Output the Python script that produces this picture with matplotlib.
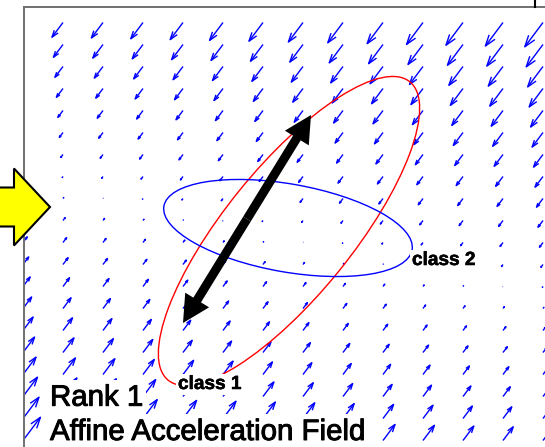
import matplotlib.pyplot as plt
import numpy as np
from matplotlib import patheffects
from matplotlib.collections import LineCollection
from matplotlib.lines import Line2D
from matplotlib.patches import Ellipse, FancyArrow

plt.rcParams['font.family'] = ['Liberation Sans', 'DejaVu Sans']

# sample points of the field (canvas units, y grows downward)
grid_x = np.arange(23, 560, 40)
grid_y = np.arange(22.5, 450, 22)

# rank 1 affine field: a(p) = d * (g . (p - p0))
field_dir = np.array([-0.6, 0.8])
field_grad = np.array([0.025, -0.111])
field_origin = np.array([63.0, 188.0])

# class ellipses: centre, full width, full height, angle (deg)
class1_ellipse = ((289, 231), 384, 128, -51)
class2_ellipse = ((288, 228), 252, 88, 10)

# principal axis of the acceleration (double arrow)
axis_start = np.array([183.0, 323.0])
axis_end = np.array([311.0, 115.0])

fig = plt.figure(figsize=(5.45, 4.47), dpi=100)
ax = fig.add_axes([24 / 545, 0, 521 / 545, 440 / 447])
ax.set_xlim(24, 545)
ax.set_ylim(447, 7)
ax.set_xticks([])
ax.set_yticks([])
for side in ['right', 'bottom']:
    ax.spines[side].set_visible(False)
for side in ['left', 'top']:
    ax.spines[side].set_color('#707070')
    ax.spines[side].set_linewidth(1.4)

# matlab style quiver (open arrow heads, tail on the grid point)
X, Y = np.meshgrid(grid_x, grid_y)
s = field_grad[0] * (X - field_origin[0]) + field_grad[1] * (Y - field_origin[1])
U = field_dir[0] * s
V = field_dir[1] * s
alpha, beta = 0.38, 0.33
segs = []
for x, y, u, v in zip(X.ravel(), Y.ravel(), U.ravel(), V.ravel()):
    tx, ty = x + u, y + v
    segs.append([(x, y), (tx, ty)])
    segs.append([(tx - alpha * (u + beta * v), ty - alpha * (v - beta * u)),
                 (tx, ty),
                 (tx - alpha * (u - beta * v), ty - alpha * (v + beta * u))])
ax.add_collection(LineCollection(segs, colors='blue', linewidths=1.0, zorder=1))

for (c, w, h, ang), col in [(class1_ellipse, 'red'), (class2_ellipse, 'blue')]:
    ax.add_patch(Ellipse(c, w, h, angle=ang, fill=False, ec=col, lw=1.0, zorder=2))

# double headed arrow drawn as two halves from the middle
mid = (axis_start + axis_end) / 2
for tip in [axis_start, axis_end]:
    d = tip - mid
    ax.add_patch(FancyArrow(mid[0], mid[1], d[0], d[1], width=9, head_width=28,
                            head_length=27, length_includes_head=True,
                            fc='black', ec='black', lw=0, zorder=3))

# yellow pointer on the left edge
ax.add_patch(FancyArrow(-30, 207, 80, 0, width=39, head_width=77, head_length=36,
                        length_includes_head=True, fc='#ffff00', ec='black',
                        lw=1.5, clip_on=False, zorder=4))

box = dict(boxstyle='square,pad=0.12', fc='white', ec='none')
heavy = [patheffects.withStroke(linewidth=0.7, foreground='black')]
semi = [patheffects.withStroke(linewidth=0.4, foreground='black')]
ax.text(178, 389, 'class 1', fontsize=13.7, fontweight='bold', va='baseline',
        bbox=box, zorder=5, path_effects=semi)
ax.text(412, 265, 'class 2', fontsize=13.7, fontweight='bold', va='baseline',
        bbox=box, zorder=5, path_effects=semi)
ax.text(50, 405.7, 'Rank 1', fontsize=21.2, va='baseline', bbox=box, zorder=5,
        path_effects=heavy)
ax.text(50, 440, 'Affine Acceleration Field', fontsize=21.2, va='baseline',
        bbox=box, zorder=5, path_effects=heavy)

fig.add_artist(Line2D([535 / 545, 535 / 545], [1, 1 - 7 / 447],
                      transform=fig.transFigure, color='black', lw=1.5))

fig.savefig('out.png', dpi=100)
